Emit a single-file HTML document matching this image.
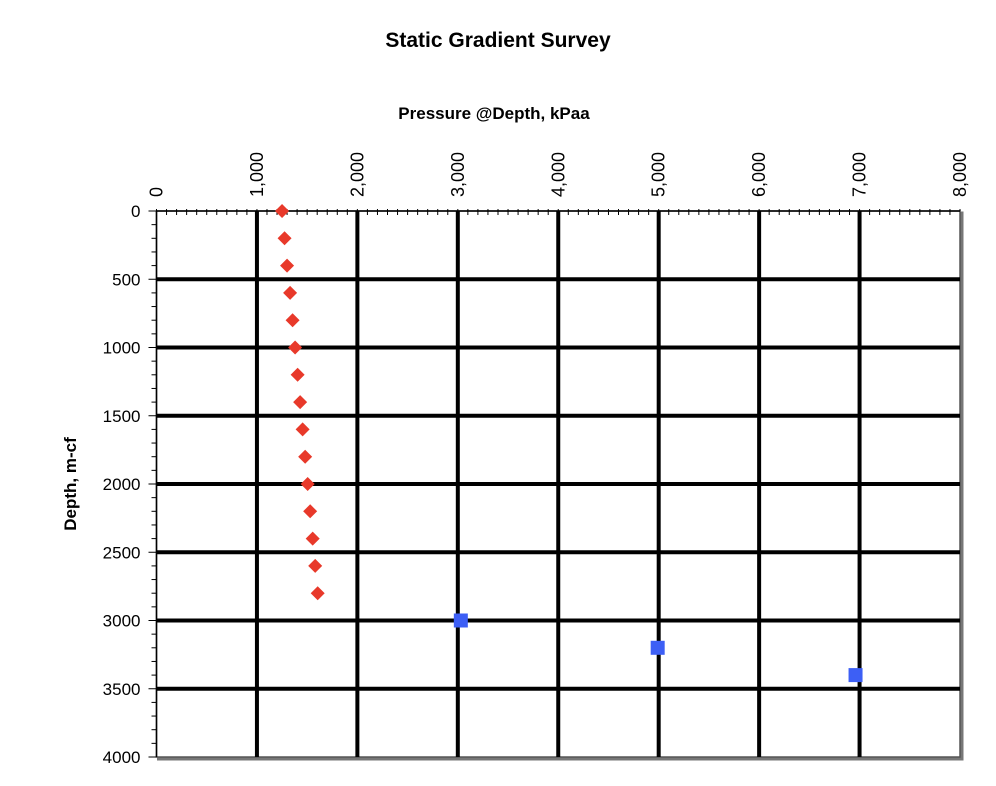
<!DOCTYPE html>
<html><head><meta charset="utf-8"><style>
body{margin:0;background:#fff;}
svg{display:block;font-family:"Liberation Sans",Arial,sans-serif;}
</style></head><body>
<svg id="chart" width="996" height="786">
<text x="498" y="47" text-anchor="middle" font-size="21" font-weight="bold">Static Gradient Survey</text>
<text x="494" y="119" text-anchor="middle" font-size="17" font-weight="bold">Pressure @Depth, kPaa</text>
<text transform="translate(76,484) rotate(-90)" text-anchor="middle" font-size="17" font-weight="bold">Depth, m-cf</text>
<g id="grid"></g><g id="ticks"></g><g id="marks"></g>
</svg>
<script>
const xTicks=[0,1000,2000,3000,4000,5000,6000,7000,8000];
const xTickLabels=["0","1,000","2,000","3,000","4,000","5,000","6,000","7,000","8,000"];
const yTicks=[0,500,1000,1500,2000,2500,3000,3500,4000];
const gradDepth=[0,200,400,600,800,1000,1200,1400,1600,1800,2000,2200,2400,2600,2800];
const gradPressure=[1250,1275,1300,1330,1355,1380,1405,1430,1455,1480,1505,1530,1555,1580,1605];
const reservoirDepth=[3000,3200,3400];
const reservoirPressure=[3030,4990,6960];
const L=156.5,R=960,T=211,B=757;
const sx=v=>L+(v-0)/8000*(R-L);
const sy=v=>T+v/4000*(B-T);
const NS="http://www.w3.org/2000/svg";
function mk(tag,attrs,parent){const e=document.createElementNS(NS,tag);for(const k in attrs)e.setAttribute(k,attrs[k]);parent.appendChild(e);return e;}
const grid=document.getElementById('grid'),ticks=document.getElementById('ticks'),marks=document.getElementById('marks');
mk('rect',{x:L+2,y:T+2,width:R-L,height:B-T,fill:'none',stroke:'#777','stroke-width':3},grid);
mk('rect',{x:L,y:T,width:R-L,height:B-T,fill:'#fff',stroke:'#555','stroke-width':1.5},grid);
xTicks.forEach((v,i)=>{
  if(i>0&&i<xTicks.length-1){const g=mk('line',{x1:sx(v),x2:sx(v),y1:T,y2:B,stroke:'#000','stroke-width':4},grid);
  
  }
  const t=mk('text',{transform:`translate(${sx(v)+6},${T-14}) rotate(-90)`,'font-size':18},ticks);
  t.textContent=xTickLabels[i];
  
  
});
yTicks.forEach((v,i)=>{
  if(i>0&&i<yTicks.length-1){const g=mk('line',{x1:L,x2:R,y1:sy(v),y2:sy(v),stroke:'#000','stroke-width':4},grid);
  
  }
  const t=mk('text',{x:L-16,y:sy(v)+6,'text-anchor':'end','font-size':17},ticks);
  t.textContent=String(v);
  
  
});
for(let v=0;v<=8000;v+=100){mk('line',{x1:sx(v),x2:sx(v),y1:T-2,y2:T+(v%1000?4:0),stroke:'#000','stroke-width':1},ticks);}
for(let v=0;v<=4000;v+=100){mk('line',{x1:L-(v%500?5:8),x2:L,y1:sy(v),y2:sy(v),stroke:'#000','stroke-width':1},ticks);}
mk('line',{x1:L,x2:L,y1:T,y2:B,stroke:'#000','stroke-width':1.5},ticks);
mk('line',{x1:L,x2:R,y1:T,y2:T,stroke:'#000','stroke-width':1.5},ticks);
gradDepth.forEach((d,i)=>{
  const x=sx(gradPressure[i]),y=sy(d);
  const p=mk('polygon',{points:`${x},${y-7} ${x+7},${y} ${x},${y+7} ${x-7},${y}`,fill:'#e8392a'},marks);
  
  
});
reservoirDepth.forEach((d,i)=>{
  const x=sx(reservoirPressure[i]),y=sy(d);
  const r=mk('rect',{x:x-7,y:y-7,width:14,height:14,fill:'#3d5ff5'},marks);
  
  
});
</script>
</body></html>
